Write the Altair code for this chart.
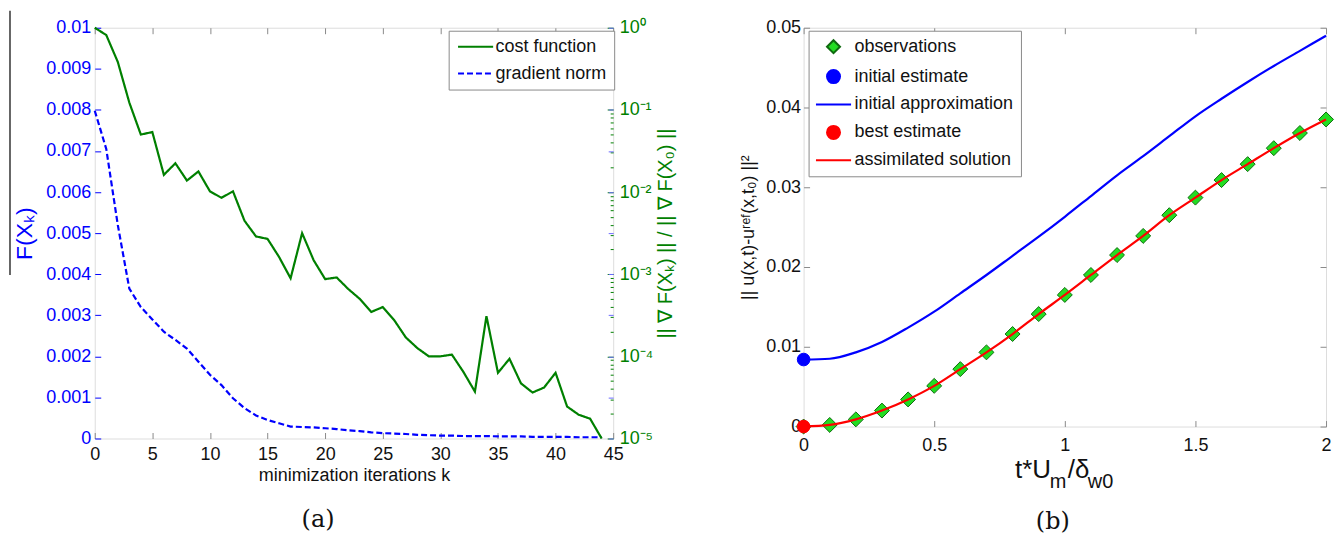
import altair as alt
import pandas as pd

# ---------------- panel (a) data ----------------
iterations = list(range(45))
cost_function = [1.0, 0.815, 0.384, 0.123, 0.0501, 0.0537, 0.0162, 0.0224, 0.0138, 0.0178,
                 0.0102, 0.00851, 0.0102, 0.00447, 0.00288, 0.00269, 0.00162, 0.000891, 0.00316, 0.00148,
                 0.000871, 0.000912, 0.000661, 0.000501, 0.000347, 0.000398, 0.000275, 0.000170, 0.000126, 0.000100,
                 0.000100, 0.000105, 0.0000646, 0.0000372, 0.000309, 0.0000631, 0.0000933, 0.0000468, 0.0000363, 0.0000417,
                 0.0000631, 0.0000245, 0.0000195, 0.0000174, 0.00001]
gradient_norm = [0.00798, 0.00705, 0.00520, 0.00365, 0.00320, 0.00290, 0.00260, 0.00240, 0.00219, 0.00187,
                 0.00155, 0.00130, 0.00098, 0.00074, 0.00056, 0.00045, 0.00037, 0.00029, 0.00028, 0.00027,
                 0.00025, 0.00023, 0.00020, 0.00018, 0.00015, 0.00013, 0.00012, 0.00011, 0.00009, 0.00008,
                 0.00007, 0.00007, 0.00006, 0.00006, 0.00006, 0.00005, 0.00005, 0.00005, 0.00004, 0.00004,
                 0.00004, 0.00004, 0.00003, 0.00003, 0.00003]
series_a = ["cost function", "gradient norm"]
k_ticks = [0, 5, 10, 15, 20, 25, 30, 35, 40, 45]
lin_ticks = [0, 0.001, 0.002, 0.003, 0.004, 0.005, 0.006, 0.007, 0.008, 0.009, 0.01]
log_ticks = [0.00001, 0.0001, 0.001, 0.01, 0.1, 1]
log_labels = ["10⁰", "10⁻¹", "10⁻²", "10⁻³", "10⁻⁴", "10⁻⁵"]
log_minor = [m * d for d in [0.00001, 0.0001, 0.001, 0.01, 0.1] for m in [2, 3, 4, 5, 6, 7, 8, 9]]

# ---------------- panel (b) data ----------------
t_values = [0.0, 0.1, 0.2, 0.3, 0.4, 0.5, 0.6, 0.7, 0.8, 0.9, 1.0,
            1.1, 1.2, 1.3, 1.4, 1.5, 1.6, 1.7, 1.8, 1.9, 2.0]
observations = [0.0, 0.0002, 0.0009, 0.0020, 0.0034, 0.0051, 0.0072, 0.0093, 0.0116, 0.0141, 0.0165,
                0.0190, 0.0215, 0.0239, 0.0265, 0.0287, 0.0309, 0.0329, 0.0349, 0.0368, 0.0385]
assimilated = [0.0, 0.0002, 0.0009, 0.0020, 0.0034, 0.0051, 0.0072, 0.0093, 0.0116, 0.0141, 0.0165,
               0.0190, 0.0215, 0.0239, 0.0265, 0.0287, 0.0309, 0.0329, 0.0349, 0.0368, 0.0385]
initial_approx = [0.0084, 0.0085, 0.0093, 0.0106, 0.0124, 0.0144, 0.0167, 0.0190, 0.0214, 0.0238, 0.0263,
                  0.0289, 0.0315, 0.0339, 0.0364, 0.0389, 0.0411, 0.0432, 0.0452, 0.0471, 0.0490]
initial_estimate = [0.0, 0.0084]
best_estimate = [0.0, 0.0]
series_b = ["observations", "initial estimate", "initial approximation", "best estimate", "assimilated solution"]
t_ticks = [0, 0.5, 1, 1.5, 2]
u_ticks = [0, 0.01, 0.02, 0.03, 0.04, 0.05]

# ---------------- styling ----------------
FONT = "Liberation Sans, Arial, DejaVu Sans"
GREEN = "#008000"
BLUE = "#0000ff"
RED = "#ff0000"
LIME = "#22dd22"
DKGREEN = "#0f6a0f"
FRAME = "#8a8a8a"
TXT = "#111111"

# ================= panel (a) =================
df_cost = pd.DataFrame({"k": iterations, "v": cost_function, "sa": series_a[0]})
df_grad = pd.DataFrame({"k": iterations, "v": gradient_norm, "sa": series_a[1]})

x_scale_a = alt.Scale(domain=[0, 45], nice=False, zero=False)
stroke_a = alt.Scale(domain=series_a, range=[GREEN, BLUE])
dash_a = alt.Scale(domain=series_a, range=[[1, 0], [6, 3]])
legend_a = alt.Legend(title=None, orient="none", legendX=355, legendY=3,
                      symbolType="M-2.7,0H2.7", symbolSize=170, symbolStrokeWidth=2,
                      symbolOffset=11, labelOffset=11, labelFont=FONT, labelFontSize=18,
                      labelColor=TXT, fillColor="white", strokeColor=FRAME, padding=7,
                      rowPadding=9)

log_expr = "[" + ",".join("'" + s + "'" for s in log_labels) + "][round(-log(datum.value)/LN10)]"

grad_layer = alt.Chart(df_grad).mark_line(strokeWidth=2.2).encode(
    x=alt.X("k:Q", scale=x_scale_a,
            axis=alt.Axis(orient="bottom", values=k_ticks, offset=-6, tickSize=6, domain=False,
                          grid=False, labelPadding=7, labelFontSize=18, labelColor=TXT,
                          labelFlush=False, tickColor=FRAME, title="minimization iterations k",
                          titleFontSize=18, titleFontWeight="normal", titleColor=TXT,
                          titlePadding=3)),
    y=alt.Y("v:Q", scale=alt.Scale(domain=[0, 0.01], nice=False),
            axis=alt.Axis(orient="left", values=lin_ticks, format=".3~f", offset=-6, tickSize=6,
                          domain=False, grid=False, labelPadding=4, labelFontSize=18,
                          labelColor=BLUE, tickColor=BLUE, title="F(Xₖ)", titleColor=BLUE,
                          titleFontSize=23, titleFontWeight="normal", titlePadding=9)),
    stroke=alt.Stroke("sa:N", scale=stroke_a, legend=legend_a),
    strokeDash=alt.StrokeDash("sa:N", scale=dash_a, legend=legend_a),
)

cost_layer = alt.Chart(df_cost).mark_line(strokeWidth=2.2).encode(
    x=alt.X("k:Q", scale=x_scale_a,
            axis=alt.Axis(orient="top", values=k_ticks, labels=False, offset=-6, tickSize=6,
                          domain=False, grid=False, tickColor=FRAME, title=None)),
    y=alt.Y("v:Q", scale=alt.Scale(type="log", domain=[0.00001, 1], nice=False),
            axis=alt.Axis(orient="right", values=log_ticks, labelExpr=log_expr, offset=-6,
                          tickSize=6, domain=False, grid=False, labelPadding=6, labelFontSize=18,
                          labelColor=GREEN, tickColor=GREEN, labelAlign="left", labelOverlap=False,
                          title="|| ∇ F(Xₖ) || / || ∇ F(X₀) ||", titleColor=GREEN,
                          titleFontSize=20, titleFontWeight="normal", titleAngle=270,
                          titleBaseline="top", titlePadding=3)),
    stroke=alt.Stroke("sa:N", scale=stroke_a, legend=legend_a),
    strokeDash=alt.StrokeDash("sa:N", scale=dash_a, legend=legend_a),
)

minor_layer = alt.Chart(df_cost).mark_line(opacity=0).encode(
    x=alt.X("k:Q", scale=x_scale_a, axis=None),
    y=alt.Y("v:Q", scale=alt.Scale(type="log", domain=[0.00001, 1], nice=False),
            axis=alt.Axis(orient="right", values=log_minor, labels=False, offset=-3, tickSize=3,
                          domain=False, grid=False, tickColor=GREEN, title=None)),
)

blue_tick_layer = alt.Chart(df_grad).mark_line(opacity=0).encode(
    x=alt.X("k:Q", scale=x_scale_a, axis=None),
    y=alt.Y("v:Q", scale=alt.Scale(domain=[0, 0.01], nice=False),
            axis=alt.Axis(orient="right", values=lin_ticks, labels=False, offset=-5, tickSize=5,
                          domain=False, grid=False, tickColor="#6b6bff", title=None)),
)

edge_rule = alt.Chart(pd.DataFrame({"a": [0]})).mark_rule(color="#333333", strokeWidth=1.5).encode(
    x=alt.value(-85), y=alt.value(-17), y2=alt.value(248)
)

panel_a = alt.layer(grad_layer, cost_layer, minor_layer, blue_tick_layer, edge_rule).resolve_scale(
    y="independent"
).resolve_axis(x="independent", y="independent").properties(
    width=520, height=412,
    title=alt.TitleParams("(a)", orient="bottom", anchor="middle", frame="group",
                          font="DejaVu Serif", fontSize=24, fontWeight="normal", color=TXT,
                          offset=24, dx=-36),
)

# ================= panel (b) =================
df_obs = pd.DataFrame({"t": t_values, "u": observations, "sb": series_b[0]})
df_dots = pd.DataFrame({"t": initial_estimate[:1] + best_estimate[:1],
                        "u": initial_estimate[1:] + best_estimate[1:],
                        "sb": [series_b[1], series_b[3]]})
df_lines = pd.DataFrame({"t": t_values + t_values, "u": initial_approx + assimilated,
                         "sb": [series_b[2]] * len(t_values) + [series_b[4]] * len(t_values)})

x_scale_b = alt.Scale(domain=[0, 2], nice=False)
y_scale_b = alt.Scale(domain=[0, 0.05], nice=False)
stroke_b = alt.Scale(domain=series_b, range=[DKGREEN, BLUE, BLUE, RED, RED])
fill_b = alt.Scale(domain=series_b, range=[LIME, BLUE, "transparent", RED, "transparent"])
shape_b = alt.Scale(domain=series_b, range=["diamond", "circle", "M-2.7,0H2.7", "circle", "M-2.7,0H2.7"])
legend_b = alt.Legend(title=None, orient="none", legendX=5, legendY=3, symbolSize=170,
                      symbolStrokeWidth=2, symbolOffset=9, labelOffset=12, labelFont=FONT,
                      labelFontSize=18, labelColor=TXT, fillColor="white", strokeColor=FRAME,
                      padding=7, rowPadding=8)

obs_layer = alt.Chart(df_obs).mark_point(filled=True, size=225, strokeWidth=1, opacity=1).encode(
    x=alt.X("t:Q", scale=x_scale_b,
            axis=alt.Axis(orient="top", values=t_ticks, labels=False, offset=-6, tickSize=6,
                          domain=False, grid=False, tickColor=FRAME, title=None)),
    y=alt.Y("u:Q", scale=y_scale_b,
            axis=alt.Axis(orient="right", values=u_ticks, labels=False, offset=-6, tickSize=6,
                          domain=False, grid=False, tickColor=FRAME, title=None)),
    fill=alt.Fill("sb:N", scale=fill_b, legend=legend_b),
    stroke=alt.Stroke("sb:N", scale=stroke_b, legend=legend_b),
    shape=alt.Shape("sb:N", scale=shape_b, legend=legend_b),
)

line_layer = alt.Chart(df_lines).mark_line(strokeWidth=2.2, interpolate="monotone").encode(
    x=alt.X("t:Q", scale=x_scale_b,
            axis=alt.Axis(orient="bottom", values=t_ticks, format=".1~f", offset=-6, tickSize=6,
                          domain=False, grid=False, labelPadding=10, labelFontSize=18,
                          labelColor=TXT, labelFlush=False, tickColor=FRAME, title=None)),
    y=alt.Y("u:Q", scale=y_scale_b,
            axis=alt.Axis(orient="left", values=u_ticks, format=".2~f", offset=-6, tickSize=6,
                          domain=False, grid=False, labelPadding=3, labelFontSize=18,
                          labelColor=TXT, tickColor=FRAME,
                          title="|| u(x,t)-uʳᵉᶠ(x,t₀) ||²", titleColor=TXT, titleFontSize=18,
                          titleFontWeight="normal", titlePadding=8)),
    stroke=alt.Stroke("sb:N", scale=stroke_b, legend=None),
    detail="sb:N",
)

dots_layer = alt.Chart(df_dots).mark_point(filled=True, size=160, strokeWidth=1, opacity=1).encode(
    x=alt.X("t:Q", scale=x_scale_b, axis=None),
    y=alt.Y("u:Q", scale=y_scale_b, axis=None),
    fill=alt.Fill("sb:N", scale=fill_b, legend=legend_b),
    stroke=alt.Stroke("sb:N", scale=stroke_b, legend=legend_b),
    shape=alt.Shape("sb:N", scale=shape_b, legend=legend_b),
)

one = pd.DataFrame({"a": [0]})
def piece(text, size, px, py):
    return alt.Chart(one).mark_text(text=text, font=FONT, fontSize=size, align="left",
                                    baseline="alphabetic", color=TXT).encode(
        x=alt.value(px), y=alt.value(py))

x_title_b = [piece("t*U", 26, 212, 452), piece("m", 20, 247, 462),
             piece("/δ", 26, 265, 452), piece("w0", 20, 285, 462)]

panel_b = alt.layer(obs_layer, line_layer, dots_layer, *x_title_b).resolve_axis(
    x="independent", y="independent"
).properties(
    width=524, height=400,
    title=alt.TitleParams("(b)", orient="bottom", anchor="middle", frame="group",
                          font="DejaVu Serif", fontSize=24, fontWeight="normal", color=TXT,
                          offset=18, dx=-12),
)

chart = alt.hconcat(panel_a, panel_b, spacing=191, bounds="flush").resolve_scale(
    stroke="independent", strokeDash="independent", fill="independent", shape="independent"
).properties(
    padding={"left": 0, "top": 0, "right": 0, "bottom": 0}
).configure_view(stroke=FRAME, strokeWidth=1).configure_axis(
    labelFont=FONT, titleFont=FONT
).configure(background="white")

chart.save("out.html", embed_options={"renderer": "svg", "actions": False})
